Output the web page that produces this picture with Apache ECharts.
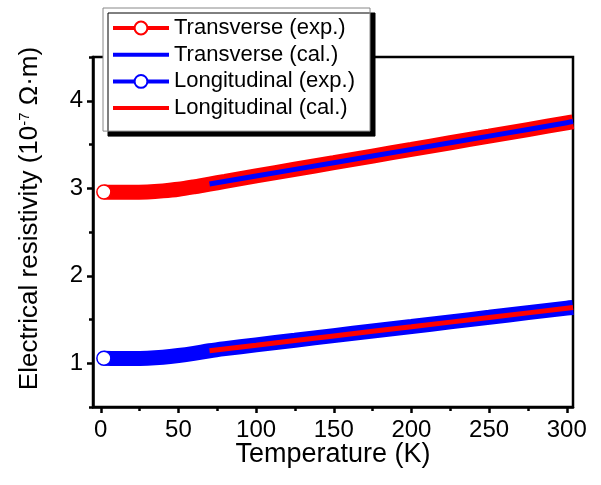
<!DOCTYPE html>
<html>
<head>
<meta charset="utf-8">
<script src="https://cdn.jsdelivr.net/npm/echarts@6/dist/echarts.min.js"></script>
<style>
    html, body { margin: 0; padding: 0; background: #fff; }
    #chart { width: 601px; height: 485px; }
</style>
</head>
<body>
<div id="chart"></div>
<script>
let chart = echarts.init(document.getElementById('chart'));

// measured curves (exp.) - temperature in K, resistivity in 1e-7 Ohm m
let temp_exp = [2, 10, 20, 30, 40, 50, 60, 70, 80, 100, 125, 150, 175, 200, 225, 250, 275, 300, 304];
let transverse_exp = [2.957, 2.953, 2.953, 2.958, 2.97, 2.988, 3.016, 3.048, 3.078, 3.141, 3.217, 3.292, 3.368, 3.444, 3.52, 3.595, 3.671, 3.747, 3.759];
let longitudinal_exp = [1.057, 1.055, 1.055, 1.058, 1.069, 1.088, 1.113, 1.143, 1.167, 1.21, 1.263, 1.316, 1.368, 1.42, 1.473, 1.525, 1.578, 1.63, 1.638];

// calculated curves (cal.)
let temp_cal = [70, 100, 150, 200, 250, 300, 304];
let transverse_cal = [3.048, 3.14, 3.292, 3.444, 3.596, 3.749, 3.762];
let longitudinal_cal = [1.144, 1.206, 1.312, 1.417, 1.523, 1.628, 1.636];

let series_names = ['Transverse (exp.)', 'Transverse (cal.)', 'Longitudinal (exp.)', 'Longitudinal (cal.)'];

let x_major = [0, 50, 100, 150, 200, 250, 300];
let x_minor = [25, 75, 125, 175, 225, 275];
let y_major = [1, 2, 3, 4];
let y_minor = [0.5, 1.5, 2.5, 3.5, 4.5];

let font = 'Liberation Sans, Arial, sans-serif';
let red = '#ff0000';
let blue = '#0000ff';

// first point gets the open circle, the rest is the dense band
let expData = function (ys) {
    return temp_exp.map((t, i) => i === 0 ? [t, ys[i]] : {value: [t, ys[i]], symbol: 'none'});
};
let calData = function (ys) {
    return temp_cal.map((t, i) => [t, ys[i]]);
};

let expSeries = function (name, ys, color) {
    return {
        name: name,
        type: 'line',
        data: expData(ys),
        smooth: 0.3,
        symbol: 'circle',
        symbolSize: 14,
        showAllSymbol: true,
        itemStyle: {color: '#fff', borderColor: color, borderWidth: 1.5},
        lineStyle: {color: color, width: 15},
        emphasis: {disabled: true},
    };
};
let calSeries = function (name, ys, color) {
    return {
        name: name,
        type: 'line',
        data: calData(ys),
        smooth: true,
        symbol: 'circle',
        showSymbol: false,
        itemStyle: {color: color},
        lineStyle: {color: color, width: 5},
        emphasis: {disabled: true},
    };
};

let axisMin = -5;
let axisMax = 304;

let option = {
    animation: false,
    grid: {
        left: 93,
        right: 28,
        top: 57,
        bottom: 78,
        show: true,
        borderColor: '#000',
        borderWidth: 2.5,
    },
    legend: {
        orient: 'vertical',
        left: 103,
        top: 8,
        padding: [9, 15, 12, 8],
        itemWidth: 56,
        itemHeight: 16,
        itemGap: 4.7,
        selectedMode: false,
        backgroundColor: '#fff',
        borderColor: '#888',
        borderWidth: 1,
        shadowColor: '#000',
        shadowBlur: 0,
        shadowOffsetX: 5,
        shadowOffsetY: 5,
        lineStyle: {width: 4},
        textStyle: {fontFamily: font, fontSize: 22, color: '#000', lineHeight: 22},
        data: [
            {name: series_names[0]},
            {name: series_names[1], itemStyle: {opacity: 0}},
            {name: series_names[2]},
            {name: series_names[3], itemStyle: {opacity: 0}},
        ],
    },
    xAxis: [
        {
            type: 'value',
            min: axisMin,
            max: axisMax,
            name: 'Temperature (K)',
            nameLocation: 'middle',
            nameGap: 34,
            nameMoveOverlap: false,
            nameTextStyle: {fontFamily: font, fontSize: 27, color: '#000'},
            axisLine: {onZero: false, lineStyle: {color: '#000', width: 2.5}},
            axisTick: {customValues: x_major, length: 6, lineStyle: {color: '#000', width: 2.5}},
            axisLabel: {customValues: x_major, margin: 11, fontFamily: font, fontSize: 24, color: '#000'},
            splitLine: {show: false},
        },
        {
            type: 'value',
            position: 'bottom',
            min: axisMin,
            max: axisMax,
            axisLine: {show: false, onZero: false},
            axisTick: {customValues: x_minor, length: 4, lineStyle: {color: '#000', width: 2.5}},
            axisLabel: {show: false},
            splitLine: {show: false},
        },
    ],
    yAxis: [
        {
            type: 'value',
            min: 0.5,
            max: 4.5,
            name: 'Electrical resistivity (10{sup|-7} Ω·m)',
            nameLocation: 'middle',
            nameGap: 50,
            nameMoveOverlap: false,
            nameTextStyle: {
                fontFamily: font, fontSize: 26, color: '#000',
                padding: [0, 0, 0, 27],
                rich: {
                    sup: {fontFamily: font, fontSize: 15, color: '#000', verticalAlign: 'top', lineHeight: 26},
                },
            },
            axisLine: {onZero: false, lineStyle: {color: '#000', width: 2.5}},
            axisTick: {customValues: y_major, length: 6, lineStyle: {color: '#000', width: 2.5}},
            axisLabel: {customValues: y_major, margin: 10, fontFamily: font, fontSize: 24, color: '#000'},
            splitLine: {show: false},
        },
        {
            type: 'value',
            position: 'left',
            min: 0.5,
            max: 4.5,
            axisLine: {show: false, onZero: false},
            axisTick: {customValues: y_minor, length: 4, lineStyle: {color: '#000', width: 2.5}},
            axisLabel: {show: false},
            splitLine: {show: false},
        },
    ],
    series: [
        expSeries(series_names[0], transverse_exp, red),
        calSeries(series_names[1], transverse_cal, blue),
        expSeries(series_names[2], longitudinal_exp, blue),
        calSeries(series_names[3], longitudinal_cal, red),
    ],
};

chart.setOption(option);
</script>
</body>
</html>
